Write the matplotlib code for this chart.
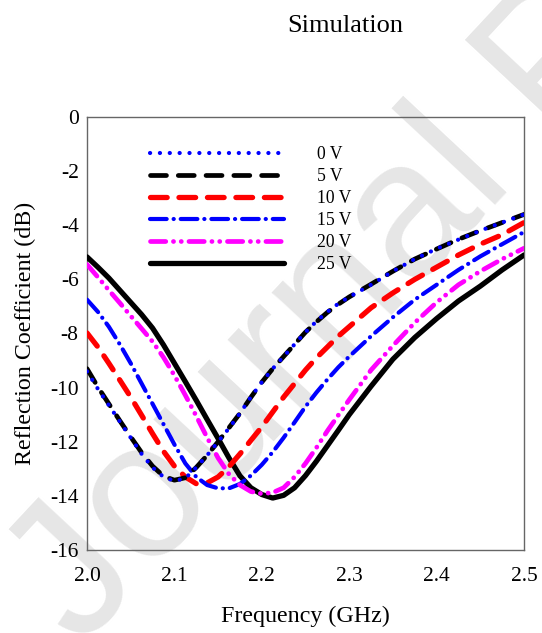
import numpy as np
import matplotlib
matplotlib.use("Agg")
import matplotlib.pyplot as plt

plt.rcParams['font.family'] = ['Liberation Serif', 'DejaVu Serif']
plt.rcParams['lines.scale_dashes'] = False
plt.rcParams['axes.unicode_minus'] = False

# reflection coefficient (dB) vs frequency (GHz) for each bias voltage
freq = [2.000, 2.0125, 2.025, 2.0375, 2.050, 2.0625, 2.075, 2.0875, 2.100, 2.1125,
        2.125, 2.1375, 2.150, 2.1625, 2.175, 2.1875, 2.200, 2.2125, 2.225, 2.2375,
        2.250, 2.2625, 2.275, 2.2875, 2.300,
        2.325, 2.350, 2.375, 2.400, 2.425, 2.450, 2.475, 2.500]

s11_0v = [-9.40, -10.05, -10.65, -11.25, -11.85, -12.45, -12.95, -13.30, -13.45, -13.35,
          -12.95, -12.50, -12.00, -11.50, -10.95, -10.35, -9.80, -9.30, -8.85, -8.40,
          -7.95, -7.55, -7.20, -6.90, -6.65,
          -6.20, -5.70, -5.25, -4.87, -4.53, -4.20, -3.90, -3.60]
s11_5v = [-9.30, -9.98, -10.60, -11.22, -11.82, -12.40, -12.90, -13.27, -13.42, -13.33,
          -12.95, -12.50, -12.00, -11.48, -10.95, -10.36, -9.80, -9.30, -8.85, -8.40,
          -7.95, -7.57, -7.22, -6.92, -6.65,
          -6.18, -5.70, -5.25, -4.88, -4.52, -4.20, -3.90, -3.60]
s11_10v = [-7.98, -8.50, -9.10, -9.72, -10.35, -11.02, -11.70, -12.35, -12.90, -13.30,
           -13.55, -13.52, -13.30, -12.92, -12.45, -11.95, -11.45, -10.90, -10.35, -9.85,
           -9.35, -8.90, -8.50, -8.10, -7.75,
           -7.05, -6.50, -6.00, -5.55, -5.10, -4.70, -4.35, -3.90]
s11_15v = [-6.75, -7.20, -7.75, -8.40, -9.10, -9.85, -10.60, -11.35, -12.10, -12.80,
           -13.30, -13.60, -13.72, -13.72, -13.56, -13.25, -12.85, -12.38, -11.85, -11.28,
           -10.70, -10.18, -9.70, -9.25, -8.85,
           -8.10, -7.40, -6.75, -6.20, -5.65, -5.15, -4.70, -4.25]
s11_20v = [-5.45, -5.92, -6.40, -6.87, -7.35, -7.82, -8.30, -8.88, -9.55, -10.28,
           -11.05, -11.85, -12.60, -13.20, -13.60, -13.84, -13.92, -13.88, -13.70, -13.30,
           -12.80, -12.22, -11.60, -11.02, -10.45,
           -9.35, -8.45, -7.60, -6.85, -6.20, -5.70, -5.25, -4.85]
s11_25v = [-5.17, -5.55, -5.95, -6.40, -6.85, -7.30, -7.80, -8.42, -9.10, -9.78,
           -10.47, -11.18, -11.88, -12.60, -13.26, -13.70, -13.95, -14.08, -13.98, -13.70,
           -13.25, -12.72, -12.15, -11.58, -11.00,
           -9.95, -8.95, -8.15, -7.45, -6.80, -6.25, -5.65, -5.10]

labels = ['0 V', '5 V', '10 V', '15 V', '20 V', '25 V']
xticks = [2.0, 2.1, 2.2, 2.3, 2.4, 2.5]
yticks = [0, -2, -4, -6, -8, -10, -12, -14, -16]

fig = plt.figure(figsize=(5.42, 6.33), dpi=100)
ax = fig.add_axes([87/542, 83/633, 437/542, 433/633])
ax.set_facecolor('none')

# diagonal watermark behind the axes
fig.text(0.149, -0.025, 'Journal Pre-proof', family='Liberation Sans', fontsize=140,
         color='#e6e6e6', rotation=47, rotation_mode='anchor', ha='left', va='baseline',
         zorder=-1)

ax.plot(freq, s11_0v, color='#0000ff', lw=3.0, ls=(0, (0.1, 7.0)),
        dash_capstyle='round', label=labels[0], zorder=6)
ax.plot(freq, s11_5v, color='black', lw=3.4, ls=(0, (11.5, 8.5)),
        dash_capstyle='round', label=labels[1], zorder=5)
ax.plot(freq, s11_10v, color='#ff0000', lw=3.8, ls=(0, (12.0, 8.5)),
        dash_capstyle='round', label=labels[2], zorder=4)
ax.plot(freq, s11_15v, color='#0000ff', lw=3.0, ls=(0, (12.0, 5.0, 0.1, 5.0)),
        dash_capstyle='round', label=labels[3], zorder=4)
ax.plot(freq, s11_20v, color='#ff00ff', lw=3.4, ls=(0, (11.0, 5.5, 0.1, 5.5, 0.1, 5.5)),
        dash_capstyle='round', label=labels[4], zorder=4)
ax.plot(freq, s11_25v, color='black', lw=3.8, ls='-', solid_capstyle='round',
        label=labels[5], zorder=3)

ax.set_xlim(2.0, 2.5)
ax.set_ylim(-16, 0)
ax.set_xticks(xticks)
ax.set_xticklabels(['%.1f' % t for t in xticks])
ax.set_yticks(yticks)
ax.tick_params(axis='both', length=0, labelsize=15.5)
ax.tick_params(axis='x', pad=12)
ax.tick_params(axis='y', pad=6)
for sp in ax.spines.values():
    sp.set_color('#666666')
    sp.set_linewidth(1.0)

ax.set_xlabel('Frequency (GHz)', fontsize=17.3, labelpad=14.5)
ax.set_ylabel('Reflection Coefficient (dB)', fontsize=17.3, labelpad=10)
fig.text(345/542, 1 - 26/633, 'Simulation', fontsize=19, ha='center', va='center')

ax.legend(loc='upper left', bbox_to_anchor=(0.144, 0.933), frameon=False,
          fontsize=12.7, handlelength=7.6, handletextpad=1.9, labelspacing=0.28,
          borderpad=0, borderaxespad=0)

fig.savefig('out.png', dpi=100)
